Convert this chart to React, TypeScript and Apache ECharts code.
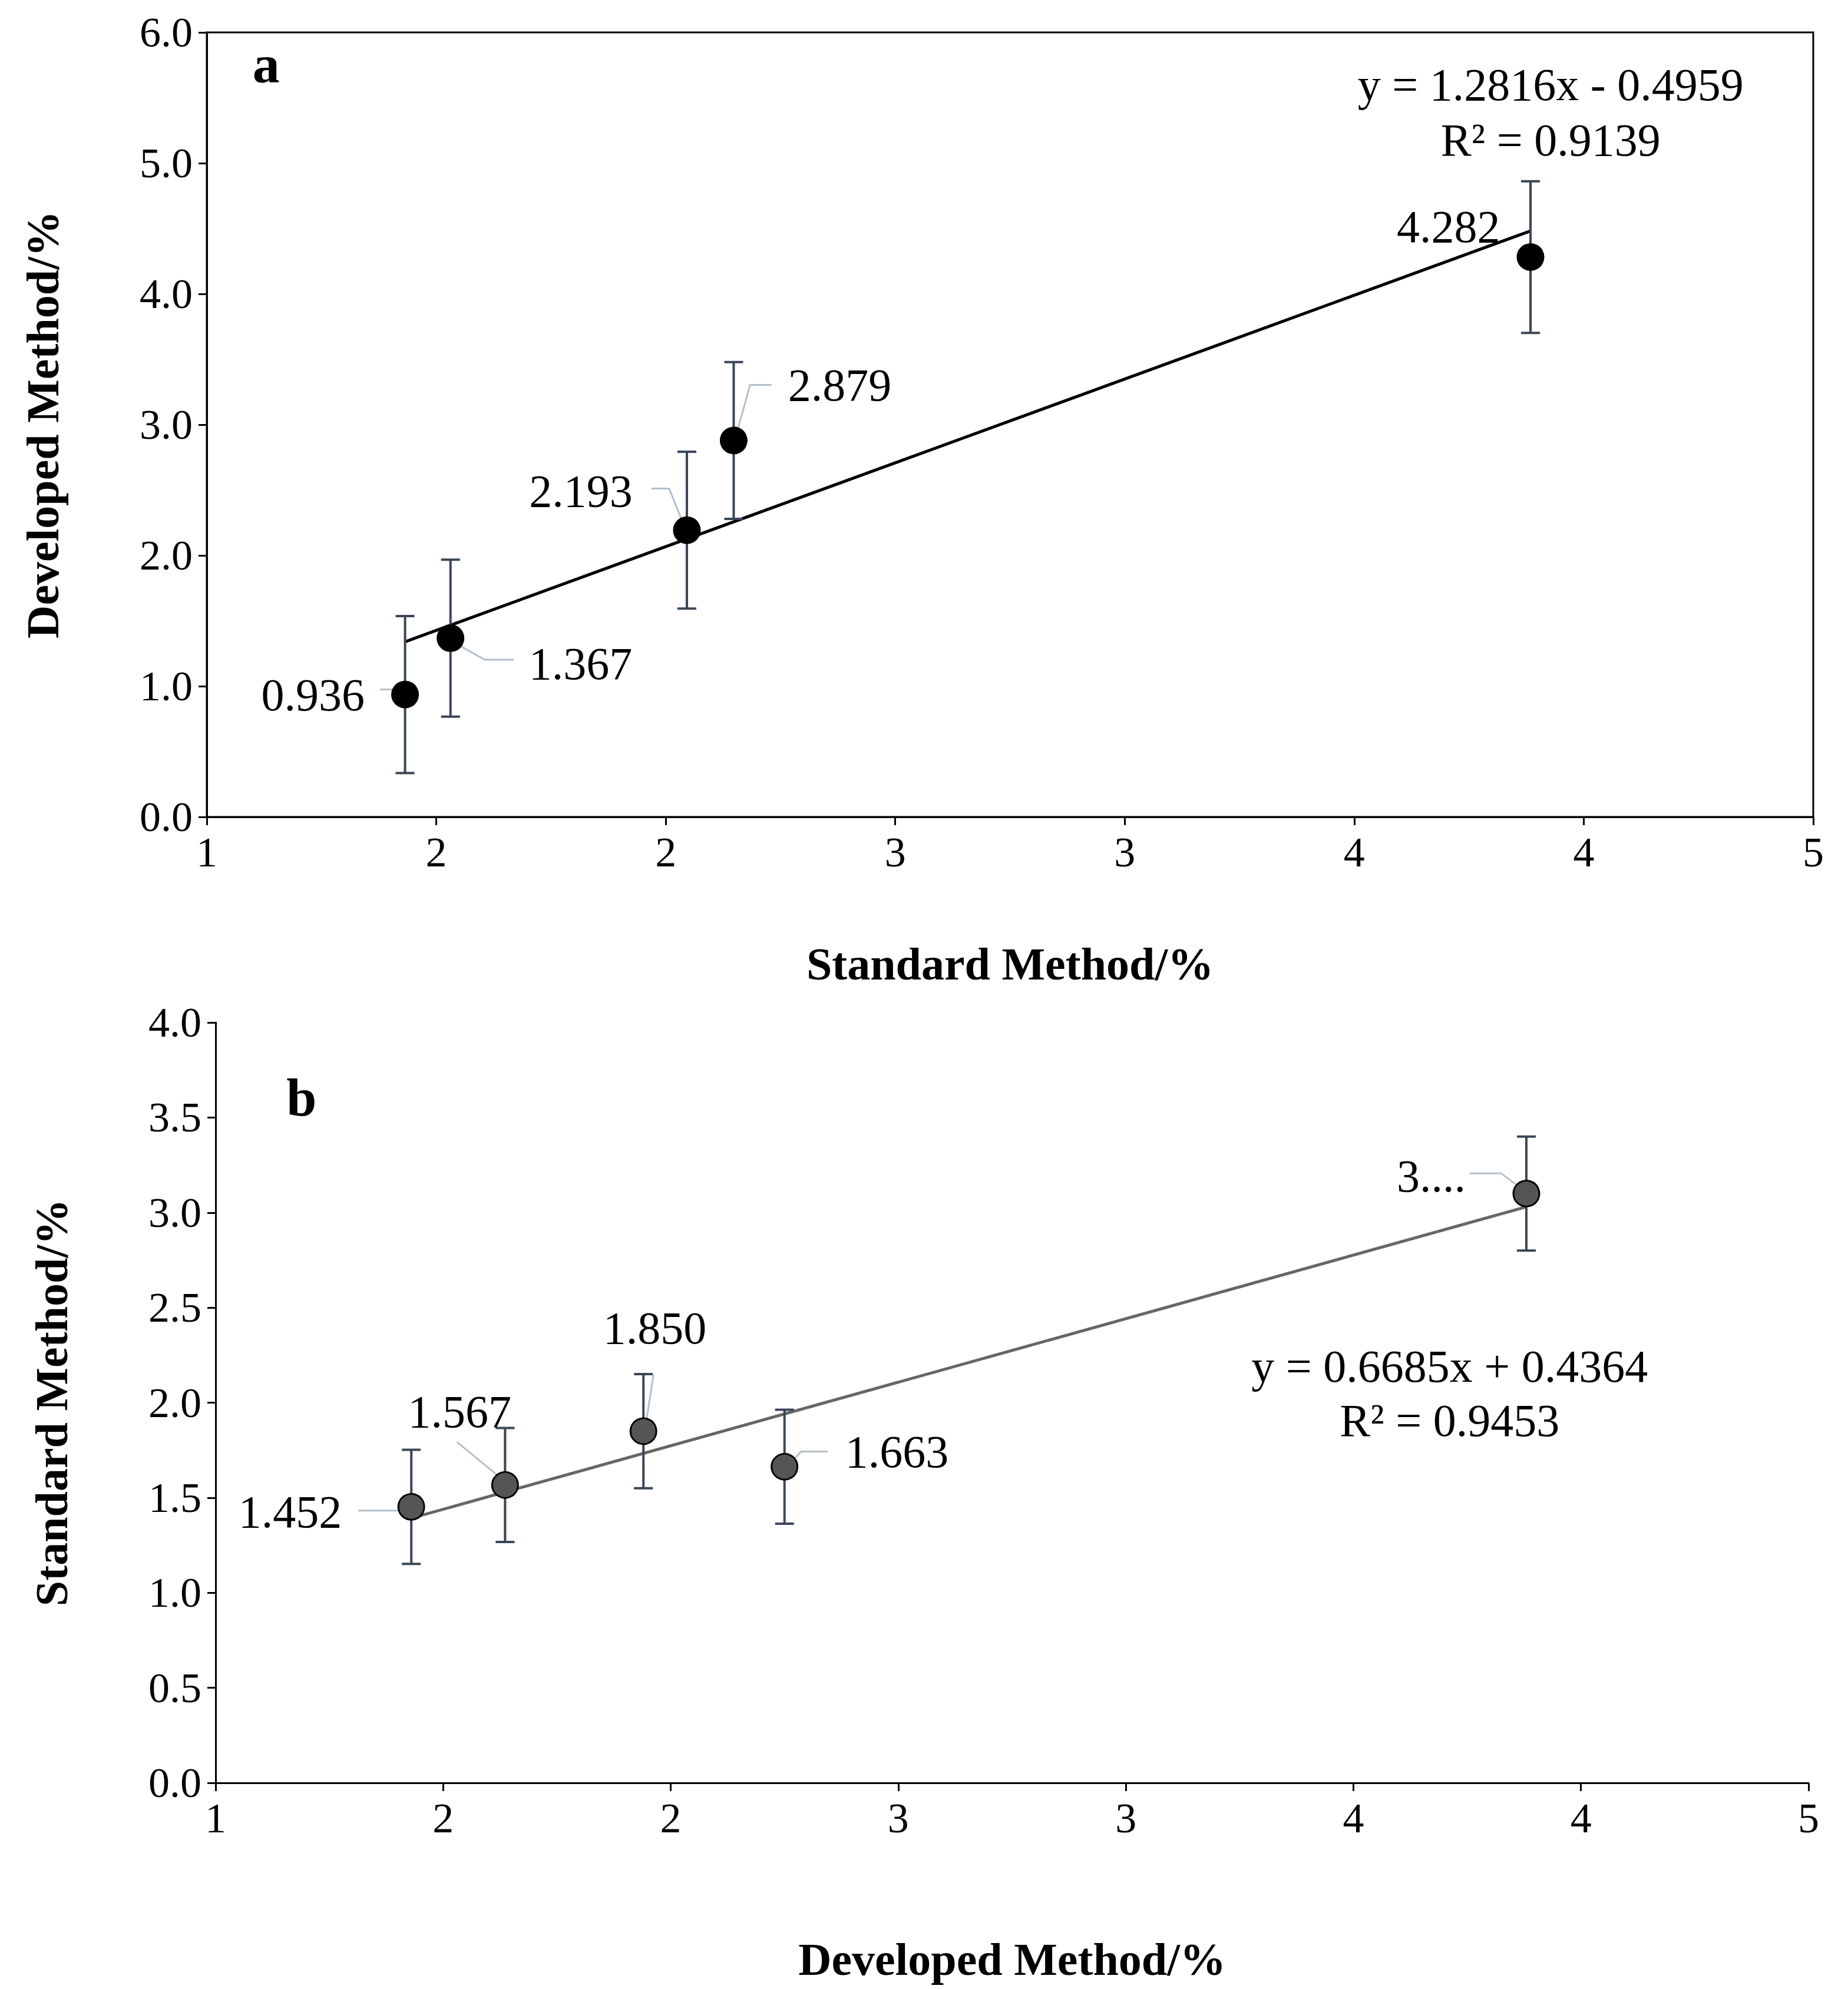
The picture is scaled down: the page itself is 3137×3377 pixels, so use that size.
import React, { useEffect, useRef } from 'react';
import * as echarts from 'echarts';

const S = 2.144;
const FONT = 'Liberation Serif';

// panel a
const aStandard = [1.432, 1.531, 2.046, 2.148, 3.884];
const aDeveloped = [0.936, 1.367, 2.193, 2.879, 4.282];
const aError = [0.6, 0.6, 0.6, 0.6, 0.58];
const aLabels = ['0.936', '1.367', '2.193', '2.879', '4.282'];
const aSlope = 1.2816;
const aIntercept = -0.4959;

// panel b
const bDeveloped = [1.43, 1.636, 1.94, 2.25, 3.88];
const bStandard = [1.452, 1.567, 1.85, 1.663, 3.1];
const bError = [0.3, 0.3, 0.3, 0.3, 0.3];
const bLabels = ['1.452', '1.567', '1.850', '1.663', '3....'];
const bSlope = 0.6685;
const bIntercept = 0.4364;

const xTicks = (v: number) => String(Math.round(v + 1e-9));

// label placement relative to point (display px): text anchor, align, leader points
type Lab = { dx: number; dy: number; align: string; leader: number[][] };
const aLab: Lab[] = [
  { dx: -32, dy: 0, align: 'right', leader: [[-20, -4], [-8, -4]] },
  { dx: 62, dy: 20, align: 'left', leader: [[4, 4], [27, 17], [50, 17]] },
  { dx: -43, dy: -31, align: 'right', leader: [[-28, -33], [-14, -33], [-4, -8]] },
  { dx: 43, dy: -44, align: 'left', leader: [[3, -8], [13, -44], [30, -44]] },
  { dx: -24, dy: -24, align: 'right', leader: [] },
];
const bLab: Lab[] = [
  { dx: -55, dy: 4, align: 'right', leader: [[-42, 3], [-8, 3]] },
  { dx: -36, dy: -58, align: 'center', leader: [[-38, -34], [-4, -6]] },
  { dx: 9, dy: -82, align: 'center', leader: [[8, -45], [2, -6]] },
  { dx: 48, dy: -12, align: 'left', leader: [[34, -12], [13, -12], [4, -2]] },
  { dx: -48, dy: -14, align: 'right', leader: [[-45, -16], [-20, -16], [-4, -4]] },
];

function panel(
  xs: number[], ys: number[], errs: number[], labels: string[], lab: Lab[],
  yMax: number, yInt: number, yDec: number, slope: number, intercept: number,
  grid: any, xName: string, yName: string, markerColor: string, lineColor: string, idx: number,
  xGap: number
) {
  const xMin = Math.min(...xs);
  const xMax = Math.max(...xs);
  return {
    grid: { ...grid, containLabel: false },
    xAxis: {
      gridIndex: idx, type: 'value', min: 1, max: 4.5, interval: 0.5,
      name: xName, nameLocation: 'middle', nameGap: xGap,
      nameTextStyle: { fontFamily: FONT, fontSize: 78, fontWeight: 'bold', color: '#000' },
      axisLine: { lineStyle: { color: '#000', width: 3 } },
      axisTick: { show: true, length: 14, lineStyle: { color: '#000', width: 3 } },
      axisLabel: { formatter: xTicks, fontFamily: FONT, fontSize: 72, color: '#000', margin: 24 },
      splitLine: { show: false },
    },
    yAxis: {
      gridIndex: idx, type: 'value', min: 0, max: yMax, interval: yInt,
      name: yName, nameLocation: 'middle', nameGap: 240,
      nameTextStyle: { fontFamily: FONT, fontSize: 78, fontWeight: 'bold', color: '#000' },
      axisLine: { show: true, lineStyle: { color: '#000', width: 3 } },
      axisTick: { show: true, length: 14, lineStyle: { color: '#000', width: 3 } },
      axisLabel: { formatter: (v: number) => v.toFixed(yDec), fontFamily: FONT, fontSize: 72, color: '#000', margin: 24 },
      splitLine: { show: false },
    },
    series: [
      {
        type: 'line', xAxisIndex: idx, yAxisIndex: idx, symbol: 'none', silent: true,
        lineStyle: { color: lineColor, width: 5 },
        data: [[xMin, slope * xMin + intercept], [xMax, slope * xMax + intercept]],
        z: 2,
      },
      {
        type: 'custom', xAxisIndex: idx, yAxisIndex: idx, z: 3,
        data: xs.map((x, i) => [x, ys[i], errs[i]]),
        renderItem: (params: any, api: any) => {
          const x = api.value(0), y = api.value(1), e = api.value(2);
          const top = api.coord([x, y + e]);
          const bot = api.coord([x, y - e]);
          const c = api.coord([x, y]);
          const cap = 16;
          const st = { stroke: '#3a4657', lineWidth: 4 };
          const l = lab[params.dataIndex];
          const children: any[] = [
            { type: 'line', shape: { x1: top[0], y1: top[1], x2: bot[0], y2: bot[1] }, style: st },
            { type: 'line', shape: { x1: top[0] - cap, y1: top[1], x2: top[0] + cap, y2: top[1] }, style: st },
            { type: 'line', shape: { x1: bot[0] - cap, y1: bot[1], x2: bot[0] + cap, y2: bot[1] }, style: st },
          ];
          if (l.leader.length) {
            children.push({
              type: 'polyline',
              shape: { points: l.leader.map((p) => [c[0] + p[0] * S, c[1] + p[1] * S]) },
              style: { stroke: '#b4c0c9', lineWidth: 3, fill: 'none' },
            });
          }
          children.push({
            type: 'text',
            style: {
              x: c[0] + l.dx * S, y: c[1] + l.dy * S, text: labels[params.dataIndex],
              align: l.align, verticalAlign: 'middle', fontFamily: FONT, fontSize: 78, fill: '#000',
            },
          });
          return { type: 'group', children };
        },
      },
      {
        type: 'scatter', xAxisIndex: idx, yAxisIndex: idx, symbolSize: 44, z: 4,
        itemStyle: { color: markerColor, borderColor: '#000', borderWidth: 3, opacity: 1 },
        data: xs.map((x, i) => [x, ys[i]]),
      },
    ],
  };
}

const App: React.FC = () => {
  const ref = useRef<HTMLDivElement>(null);
  useEffect(() => {
    if (!ref.current) return;
    const chart = echarts.init(ref.current, null, { renderer: 'svg' });
    const a = panel(aStandard, aDeveloped, aError, aLabels, aLab, 6, 1, 1, aSlope, aIntercept,
      { left: 343, right: 67, top: 47, height: 1332, show: true, borderColor: '#000', borderWidth: 3 },
      'Standard Method/%', 'Developed Method/%', '#000', '#000', 0, 210);
    const b = panel(bDeveloped, bStandard, bError, bLabels, bLab, 4, 0.5, 1, bSlope, bIntercept,
      { left: 358, right: 75, top: 1728, height: 1291 }, 'Developed Method/%', 'Standard Method/%', '#555', '#666', 1, 260);
    const txt = (x: number, y: number, t: string, size: number, bold = false, align = 'center') => ({
      type: 'text', x: x * S, y: y * S,
      style: { text: t, fontFamily: FONT, fontSize: size, fontWeight: bold ? 'bold' : 'normal', fill: '#000', align, verticalAlign: 'middle' },
    });
    chart.setOption({
      animation: false,
      backgroundColor: '#fff',
      grid: [a.grid, b.grid],
      xAxis: [a.xAxis, b.xAxis],
      yAxis: [a.yAxis, b.yAxis],
      series: [...a.series, ...b.series],
      graphic: [
        txt(207, 47, 'a', 92, true),
        txt(235, 865, 'b', 92, true),
        txt(1224, 63, 'y = 1.2816x - 0.4959', 78),
        txt(1224, 107, 'R² = 0.9139', 78),
        txt(1144, 1078, 'y = 0.6685x + 0.4364', 78),
        txt(1144, 1121, 'R² = 0.9453', 78),
      ],
    });
    return () => chart.dispose();
  }, []);
  return <div ref={ref} style={{ width: 3137, height: 3377 }} />;
};

export default App;
